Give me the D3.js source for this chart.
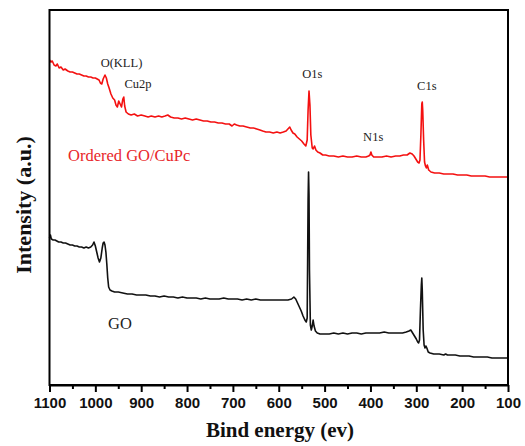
<!DOCTYPE html>
<html>
<head>
<meta charset="utf-8">
<script src="https://cdn.jsdelivr.net/npm/d3@7"></script>
<style>
  html, body { margin: 0; padding: 0; background: #fff; }
  svg { display: block; }
</style>
</head>
<body>
<svg id="chart" width="525" height="446"></svg>
<script>
// ---- Data (binding energy in eV, intensity in a.u.) ----
const xTicks = [1100, 1000, 900, 800, 700, 600, 500, 400, 300, 200, 100];
const xMinorTicks = [1050, 950, 850, 750, 650, 550, 450, 350, 250, 150];

const seriesNames = ["Ordered GO/CuPc", "GO"];

const goCuPc = [
  [1100,325],[1097,323],[1094,324],[1090,320],[1086,319],[1083,321],[1079,317],[1075,318],
  [1070,315],[1066,316],[1060,314],[1055,313],[1050,313],[1045,312],[1040,311],[1035,311],
  [1030,310],[1025,309],[1020,309],[1015,308],[1010,308],[1005,307],[1000,307],[996,306],
  [992,305],[989,302],[986,301],[983,306],[979,310],[976,307],[973,301],[970,297],[966,291],
  [962,287],[958,285],[955,280],[952,278],[949,284],[946,281],[943,278],[940,286],[938,288],
  [936,279],[933,273],[928,271],[922,270],[915,271],[908,269],[900,270],[892,269],[885,268],
  [878,269],[870,268],[862,269],[855,268],[848,269],[842,270],[836,268],[828,267],[820,267],
  [812,266],[804,267],[796,266],[788,265],[780,266],[772,265],[764,264],[756,264],[748,263],
  [740,263],[732,262],[724,262],[716,261],[708,261],[702,259],[697,261],[692,260],[685,259],
  [678,259],[670,258],[662,257],[655,257],[648,256],[641,255],[635,254],[628,253],[620,253],
  [612,252],[604,253],[597,252],[590,253],[584,254],[580,256],[576,258],[573,255],[569,252],
  [565,251],[560,248],[555,246],[550,244],[545,241],[541,239],[538,245],[536,275],[534,294],
  [532,280],[530,250],[527,237],[525,236],[522,239],[519,235],[515,233],[510,232],[504,230],
  [498,230],[490,229],[480,229],[470,228],[460,229],[450,228],[440,228],[430,229],[420,228],
  [410,228],[404,229],[401,230],[399,233],[397,230],[393,228],[385,228],[375,228],[365,229],
  [355,228],[345,229],[336,229],[328,230],[320,230],[314,232],[309,231],[305,229],[301,226],
  [297,223],[294,222],[292,225],[290,250],[288,281],[287,283],[286,275],[284,245],[282,223],
  [280,219],[278,217],[276,220],[273,215],[268,213],[260,212],[250,212],[240,211],[230,211],
  [220,211],[210,210],[200,210],[190,210],[180,209],[170,209],[160,209],[150,209],[140,208],
  [130,208],[120,208],[110,208],[100,208]
];

const go = [
  [1100,147],[1098,150],[1096,146],[1092,145],[1088,145],[1084,144],[1080,143],[1075,143],
  [1070,142],[1065,142],[1060,141],[1055,140],[1050,140],[1045,139],[1040,139],[1035,138],
  [1030,138],[1025,137],[1020,138],[1015,137],[1010,138],[1006,140],[1003,143],[1000,139],
  [997,133],[994,127],[991,123],[988,127],[985,137],[983,142],[981,143],[979,140],[977,133],
  [975,121],[973,107],[971,98],[968,95],[964,94],[958,93],[950,93],[940,92],[930,91],[920,91],
  [910,90],[900,90],[890,90],[880,89],[870,89],[860,88],[850,89],[840,88],[830,88],[820,87],
  [810,88],[800,87],[790,87],[780,87],[770,86],[760,87],[750,86],[740,86],[730,86],[720,87],
  [710,86],[700,86],[690,86],[680,85],[670,86],[660,85],[650,86],[640,85],[630,85],[620,85],
  [610,85],[600,85],[590,85],[580,85],[572,86],[567,88],[563,86],[559,82],[555,78],[551,74],
  [547,69],[543,65],[540,63],[538,67],[537,125],[536,185],[535,213],[534,190],[533,115],
  [531,60],[529,55],[527,59],[525,65],[523,59],[520,54],[516,52],[510,51],[500,51],[490,51],
  [480,52],[470,51],[460,52],[450,51],[440,52],[430,52],[420,51],[410,52],[400,52],[390,52],
  [380,52],[370,53],[360,52],[350,52],[340,52],[330,52],[322,53],[316,54],[312,55],[308,52],
  [304,49],[300,46],[297,43],[295,42],[293,45],[291,75],[289,100],[288,107],[287,95],[285,55],
  [283,40],[281,37],[279,39],[277,37],[274,33],[270,32],[262,31],[250,31],[240,30],[236,31],
  [232,30],[225,30],[215,30],[205,29],[195,29],[185,29],[175,28],[165,28],[155,28],[145,28],
  [135,27],[125,27],[115,27],[100,27]
];

const peakLabels = ["O(KLL)", "Cu2p", "O1s", "N1s", "C1s"];
const peakEnergies = [943, 907, 527, 394, 277];     // label centres (eV)
const peakLabelLevels = [318, 297, 307, 244, 295];  // label baselines (a.u.)

// ---- Chart ----
const plot = { left: 49.5, right: 508, top: 10, bottom: 385 };
const svg = d3.select("#chart");

const x = d3.scaleLinear().domain([1100, 100]).range([plot.left, plot.right]);
const y = d3.scaleLinear().domain([0, 375]).range([plot.bottom, plot.top]);

const line = d3.line().x(d => x(d[0])).y(d => y(d[1]));

svg.append("path").datum(go)
  .attr("fill", "none").attr("stroke", "#111").attr("stroke-width", 1.6)
  .attr("stroke-linejoin", "round").attr("d", line);

svg.append("path").datum(goCuPc)
  .attr("fill", "none").attr("stroke", "#f41010").attr("stroke-width", 1.6)
  .attr("stroke-linejoin", "round").attr("d", line);

// frame
svg.append("rect")
  .attr("x", plot.left).attr("y", plot.top)
  .attr("width", plot.right - plot.left).attr("height", plot.bottom - plot.top)
  .attr("fill", "none").attr("stroke", "#000").attr("stroke-width", 2);

// x axis
const xAxis = d3.axisBottom(x).tickValues(xTicks).tickSize(7).tickSizeOuter(0).tickPadding(5)
  .tickFormat(d3.format("d"));
const gx = svg.append("g").attr("transform", `translate(0,${plot.bottom})`).call(xAxis);
gx.select(".domain").attr("stroke", "#000").attr("stroke-width", 2);
gx.selectAll(".tick line").attr("stroke", "#000").attr("stroke-width", 2);
gx.selectAll(".tick text")
  .attr("fill", "#111")
  .style("font-family", "'Liberation Sans', Arial, sans-serif")
  .style("font-weight", "bold").style("font-size", "15px");

const xMinor = d3.axisBottom(x).tickValues(xMinorTicks).tickSize(4).tickFormat("");
const gm = svg.append("g").attr("transform", `translate(0,${plot.bottom})`).call(xMinor);
gm.select(".domain").remove();
gm.selectAll(".tick line").attr("stroke", "#000").attr("stroke-width", 2);

// axis titles
svg.append("text")
  .attr("x", 280).attr("y", 437).attr("text-anchor", "middle")
  .style("font-family", "'Liberation Serif', 'Times New Roman', serif")
  .style("font-weight", "bold").style("font-size", "21px").attr("fill", "#111")
  .text("Bind energy (ev)");

svg.append("text")
  .attr("transform", "translate(31,205) rotate(-90)").attr("text-anchor", "middle")
  .style("font-family", "'Liberation Serif', 'Times New Roman', serif")
  .style("font-weight", "bold").style("font-size", "22px").attr("fill", "#111")
  .text("Intensity (a.u.)");

// peak labels
peakLabels.forEach((t, i) => {
  svg.append("text")
    .attr("x", x(peakEnergies[i])).attr("y", y(peakLabelLevels[i]))
    .attr("text-anchor", "middle")
    .style("font-family", "'Liberation Serif', 'Times New Roman', serif")
    .style("font-size", "12.5px").attr("fill", "#222")
    .text(t);
});

// series labels
svg.append("text")
  .attr("x", 68).attr("y", 161)
  .style("font-family", "'Liberation Serif', 'Times New Roman', serif")
  .style("font-size", "16.5px").attr("fill", "#e8262a")
  .text(seriesNames[0]);

svg.append("text")
  .attr("x", 108).attr("y", 329)
  .style("font-family", "'Liberation Serif', 'Times New Roman', serif")
  .style("font-size", "16.5px").attr("fill", "#222")
  .text(seriesNames[1]);
</script>
</body>
</html>
